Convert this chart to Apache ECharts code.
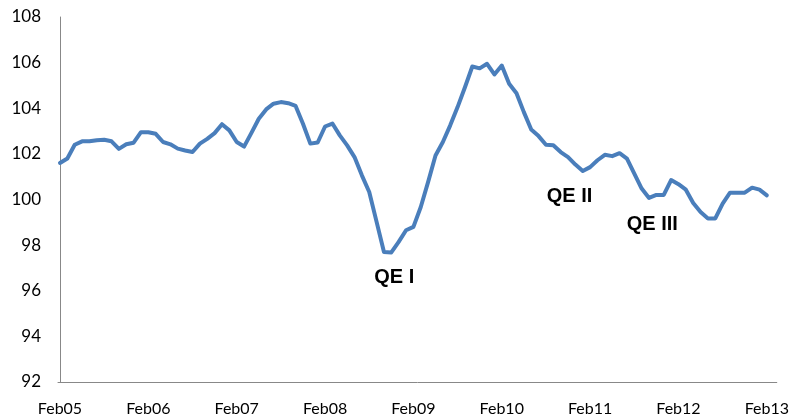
<!DOCTYPE html>
<html>
<head>
<meta charset="utf-8">
<script src="https://cdn.jsdelivr.net/npm/echarts@6/dist/echarts.min.js"></script>
<style>
html,body{margin:0;padding:0;background:#fff;}
#chart{width:792px;height:418px;}
</style>
</head>
<body>
<div id="chart"></div>
<script>
// Monthly index values, Feb05 .. Feb13 (97 months)
var values = [
  101.6, 101.8, 102.4, 102.55, 102.55, 102.6, 102.62, 102.55, 102.22, 102.42,
  102.49, 102.95, 102.95, 102.88, 102.52, 102.42, 102.23, 102.15, 102.08, 102.45,
  102.66, 102.91, 103.3, 103.03, 102.52, 102.32, 102.92, 103.54, 103.95, 104.2,
  104.27, 104.22, 104.1, 103.32, 102.45, 102.5, 103.2, 103.33, 102.81, 102.37,
  101.86, 101.06, 100.33, 99.02, 97.7, 97.68, 98.14, 98.65, 98.8, 99.67,
  100.77, 101.93, 102.52, 103.25, 104.05, 104.92, 105.83, 105.75, 105.95, 105.48,
  105.87, 105.07, 104.66, 103.83, 103.07, 102.78, 102.4, 102.38, 102.08, 101.86,
  101.53, 101.25, 101.42, 101.72, 101.96, 101.9, 102.03, 101.79, 101.13, 100.48,
  100.07, 100.2, 100.2, 100.85, 100.67, 100.43, 99.85, 99.45, 99.17, 99.17,
  99.82, 100.3, 100.3, 100.3, 100.52, 100.43, 100.18
];
// x tick labels (every 12 months)
var tickLabels = ['Feb05','Feb06','Feb07','Feb08','Feb09','Feb10','Feb11','Feb12','Feb13'];
var tickPositions = [0, 12, 24, 36, 48, 60, 72, 84, 96];
// y ticks
var yTicks = [92, 94, 96, 98, 100, 102, 104, 106, 108];
// annotations: [text, month index, value]
var annoText = ['QE I', 'QE II', 'QE III'];
var annoX = [45.4, 69.2, 80.45];
var annoY = [96.6, 100.14, 98.89];

var seriesData = values.map(function (v, i) { return [i, v]; });

var chart = echarts.init(document.getElementById('chart'), null, {renderer: 'canvas'});
var fontFam = 'Lato, "Open Sans", sans-serif';
chart.setOption({
  animation: false,
  backgroundColor: '#ffffff',
  grid: {left: 58, right: 12, top: 17, bottom: 36, containLabel: false},
  xAxis: {
    type: 'value',
    min: -0.27,
    max: 97.35,
    splitLine: {show: false},
    axisLine: {show: true, onZero: false, lineStyle: {color: '#888888', width: 1}},
    axisTick: {show: false},
    axisLabel: {
      customValues: tickPositions,
      margin: 19,
      color: '#000000',
      fontFamily: fontFam,
      fontSize: 16,
      formatter: function (val) {
        var k = tickPositions.indexOf(Math.round(val));
        return k >= 0 ? tickLabels[k] : '';
      }
    }
  },
  yAxis: {
    type: 'value',
    min: yTicks[0],
    max: yTicks[yTicks.length - 1],
    interval: 2,
    splitLine: {show: false},
    axisLine: {show: true, lineStyle: {color: '#888888', width: 1}},
    axisTick: {show: false},
    axisLabel: {
      margin: 17,
      color: '#000000',
      fontFamily: fontFam,
      fontSize: 17,
      padding: [7, 0, 0, 0]
    }
  },
  series: [{
    type: 'line',
    data: seriesData,
    showSymbol: false,
    symbol: 'none',
    lineStyle: {color: '#4a7ebb', width: 4, cap: 'round', join: 'round'},
    markPoint: {
      symbol: 'circle',
      symbolSize: 0,
      silent: true,
      label: {
        show: true,
        position: 'inside',
        color: '#000000',
        fontFamily: '"Liberation Sans", Arial, sans-serif',
        fontWeight: 'bold',
        fontSize: 20,
        formatter: function (p) { return p.name; }
      },
      data: annoText.map(function (t, k) {
        return {name: t, coord: [annoX[k], annoY[k]]};
      })
    }
  }]
});
</script>
</body>
</html>
